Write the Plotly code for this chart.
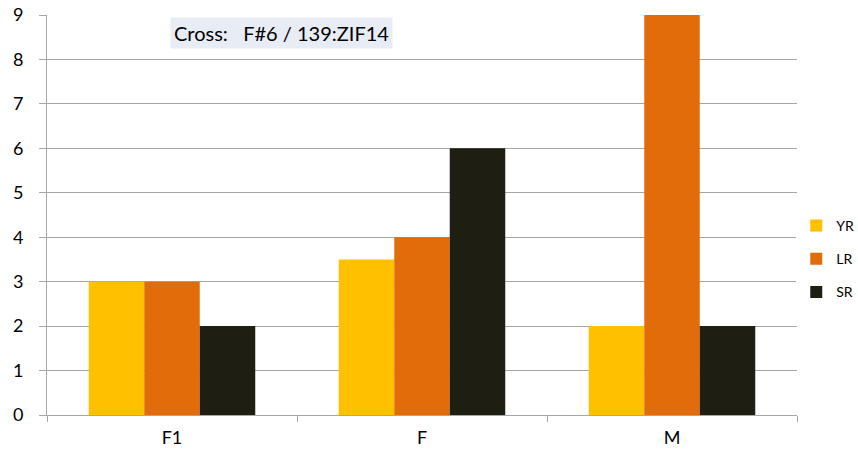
import plotly.graph_objects as go

categories = ["F1", "F", "M"]
series_names = ["YR", "LR", "SR"]
yr_values = [3, 3.5, 2]
lr_values = [3, 4, 9]
sr_values = [2, 6, 2]
y_ticks = [0, 1, 2, 3, 4, 5, 6, 7, 8, 9]
title_text = "Cross:   F#6 / 139:ZIF14"

colors = ["#FFC000", "#E36C0A", "#1F1E12"]

fig = go.Figure()
for name, vals, col in zip(series_names, [yr_values, lr_values, sr_values], colors):
    fig.add_trace(go.Bar(
        x=categories, y=vals, name=name, legendgroup=name,
        marker=dict(color=col, line=dict(width=0)),
    ))

grid = "#A6A6A6"
fig.update_layout(
    width=858, height=458,
    margin=dict(l=47, r=61, t=15, b=43, autoexpand=False),
    paper_bgcolor="white", plot_bgcolor="white",
    barmode="group", bargap=0.334, bargroupgap=0,
    font=dict(family="Lato, Carlito, sans-serif", color="#000000", size=18),
    showlegend=True,
    legend=dict(
        x=0.999, xanchor="left", y=0.39, yanchor="middle",
        font=dict(size=14), tracegroupgap=12, traceorder="grouped",
        itemwidth=30,
    ),
    xaxis=dict(
        showgrid=False, showline=True, linecolor=grid, linewidth=1,
        ticks="outside", tickson="boundaries", ticklen=6, tickcolor=grid,
        tickfont=dict(size=18), automargin=False, ticklabelstandoff=6,
    ),
    yaxis=dict(
        range=[0, 9], tickvals=y_ticks, showgrid=True, gridcolor=grid, gridwidth=1,
        showline=True, linecolor=grid, linewidth=1,
        ticks="outside", ticklen=7, tickcolor=grid, zeroline=False,
        tickfont=dict(size=18), automargin=False, ticklabelstandoff=12,
    ),
    annotations=[dict(
        text=title_text, xref="paper", yref="paper", x=0.164, y=0.955,
        xanchor="left", yanchor="middle", showarrow=False,
        bgcolor="#E8ECF4", font=dict(size=20), borderpad=3,
    )],
)

fig.write_html("out.html")
